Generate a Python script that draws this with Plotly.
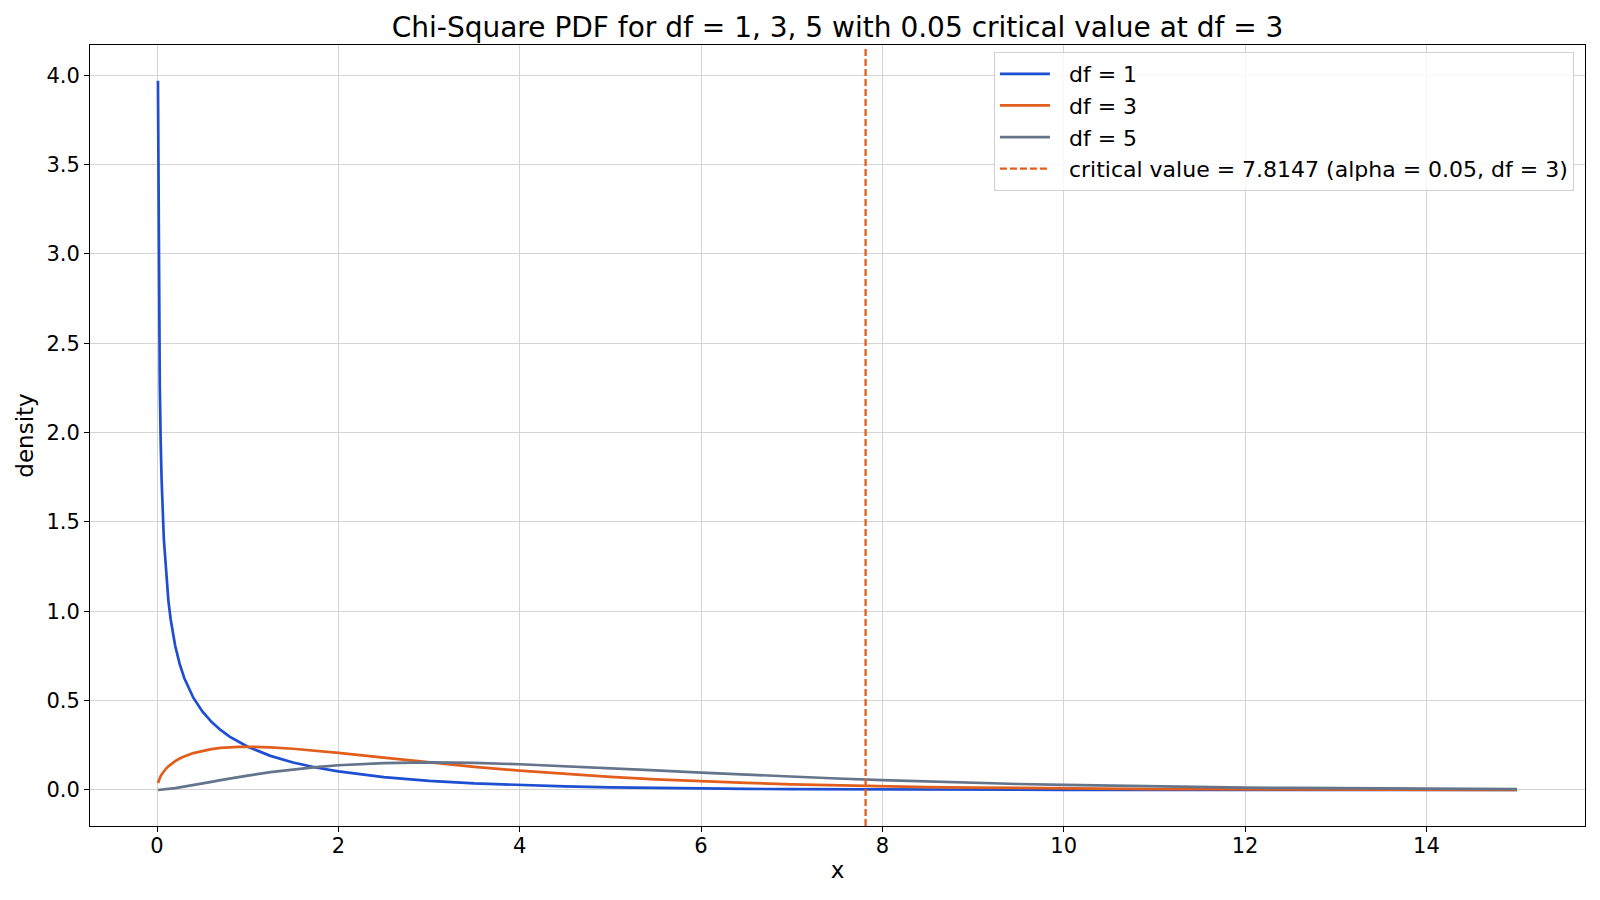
import plotly.graph_objects as go

# x positions sampled along the curves
x_vals = [0.01, 0.02, 0.03, 0.04, 0.05, 0.075, 0.1, 0.125, 0.15, 0.2, 0.25, 0.3, 0.4, 0.5,
          0.6, 0.7, 0.8, 0.9, 1.0, 1.25, 1.5, 1.75, 2, 2.5, 3, 3.5, 4, 4.5, 5, 5.5, 6, 6.5,
          7, 7.5, 8, 8.5, 9, 9.5, 10, 10.5, 11, 11.5, 12, 12.5, 13, 13.5, 14, 14.5, 15]

density_df1 = [3.969, 2.793, 2.269, 1.955, 1.740, 1.403, 1.200, 1.060, 0.9556, 0.8072, 0.7041,
               0.6269, 0.5164, 0.4394, 0.3815, 0.3360, 0.2990, 0.2681, 0.2420, 0.1910, 0.1539,
               0.1257, 0.1038, 0.0723, 0.0514, 0.0371, 0.0270, 0.0198, 0.0147, 0.0109, 0.0081,
               0.0061, 0.0046, 0.0034, 0.0026, 0.0020, 0.0015, 0.0011, 0.00085, 0.00065,
               0.00049, 0.00037, 0.00029, 0.00022, 0.00017, 0.00013, 0.00010, 0.00007, 0.00006]

density_df3 = [0.0397, 0.0559, 0.0681, 0.0782, 0.0870, 0.1052, 0.1200, 0.1325, 0.1433, 0.1614,
               0.1760, 0.1881, 0.2066, 0.2197, 0.2289, 0.2352, 0.2392, 0.2413, 0.2420, 0.2387,
               0.2308, 0.2200, 0.2076, 0.1807, 0.1542, 0.1297, 0.1080, 0.0892, 0.0733, 0.0598,
               0.0487, 0.0394, 0.0319, 0.0257, 0.0206, 0.0166, 0.0133, 0.0106, 0.0085, 0.0068,
               0.0054, 0.0043, 0.0034, 0.0027, 0.0022, 0.0017, 0.0014, 0.0011, 0.0009]

density_df5 = [0.00013, 0.00037, 0.00068, 0.00104, 0.00145, 0.00263, 0.0040, 0.0055, 0.0072,
               0.0108, 0.0147, 0.0188, 0.0276, 0.0366, 0.0458, 0.0549, 0.0638, 0.0724, 0.0807,
               0.0995, 0.1154, 0.1283, 0.1384, 0.1506, 0.1542, 0.1513, 0.1440, 0.1338, 0.1222,
               0.1096, 0.0974, 0.0854, 0.0744, 0.0643, 0.0549, 0.0470, 0.0399, 0.0336, 0.0283,
               0.0238, 0.0198, 0.0165, 0.0136, 0.0113, 0.0095, 0.0077, 0.0065, 0.0053, 0.0045]

critical_value = 7.8147
series_names = ["df = 1", "df = 3", "df = 5"]
critical_label = "critical value = 7.8147 (alpha = 0.05, df = 3)"
title_text = "Chi-Square PDF for df = 1, 3, 5 with 0.05 critical value at df = 3"

colors = ["#1e4fd2", "#e15e1c", "#64748b"]
FONT = "DejaVu Sans, Liberation Sans, sans-serif"
GAP = "\u00a0\u00a0"  # small visual gap between legend sample and its text

fig = go.Figure()
for i, (name, ys) in enumerate(zip(series_names, [density_df1, density_df3, density_df5])):
    fig.add_trace(go.Scatter(x=x_vals, y=ys, mode="lines", name=GAP + name,
                             legendgroup=f"g{i}",
                             line=dict(color=colors[i], width=2.7)))

# legend entry for the critical value line
fig.add_trace(go.Scatter(x=[None], y=[None], mode="lines", name=GAP + critical_label,
                         legendgroup="g3",
                         line=dict(color=colors[1], width=2.3, dash="7px,3px")))

fig.add_shape(type="line", xref="x", yref="paper", x0=critical_value, x1=critical_value,
              y0=0, y1=0.995, line=dict(color=colors[1], width=2.3, dash="7px,3px"))

axis_common = dict(showline=True, linecolor="black", linewidth=1, mirror=True,
                   ticks="outside", ticklen=5, tickcolor="black", tickwidth=1,
                   showgrid=True, gridcolor="#d4d4d4", gridwidth=1, zeroline=False,
                   tickfont=dict(size=21, color="black", family=FONT))

fig.update_layout(
    width=1600, height=900,
    paper_bgcolor="white", plot_bgcolor="white",
    margin=dict(l=90, r=15, t=45, b=74),
    font=dict(family=FONT, color="black"),
    title=dict(text=title_text, x=0.5235, xanchor="center", y=0.970, yanchor="middle",
               font=dict(size=28, color="black", family=FONT)),
    xaxis=dict(range=[-0.7395, 15.7495], tickmode="array",
               tickvals=[0, 2, 4, 6, 8, 10, 12, 14],
               ticklabelstandoff=-4,
               title=dict(text="x", font=dict(size=23, family=FONT), standoff=4),
               **axis_common),
    yaxis=dict(range=[-0.2015, 4.169], tickmode="array",
               tickvals=[0, 0.5, 1, 1.5, 2, 2.5, 3, 3.5, 4],
               ticktext=["0.0", "0.5", "1.0", "1.5", "2.0", "2.5", "3.0", "3.5", "4.0"],
               title=dict(text="density", font=dict(size=23, family=FONT), standoff=6),
               **axis_common),
    legend=dict(x=0.9926, xanchor="right", y=0.991, yanchor="top",
                bgcolor="rgba(255,255,255,0.8)", bordercolor="#d0d0d0", borderwidth=1,
                font=dict(size=22, color="black", family=FONT),
                itemwidth=50,
                tracegroupgap=0, traceorder="grouped"),
    showlegend=True,
)

fig.write_html("out.html")
